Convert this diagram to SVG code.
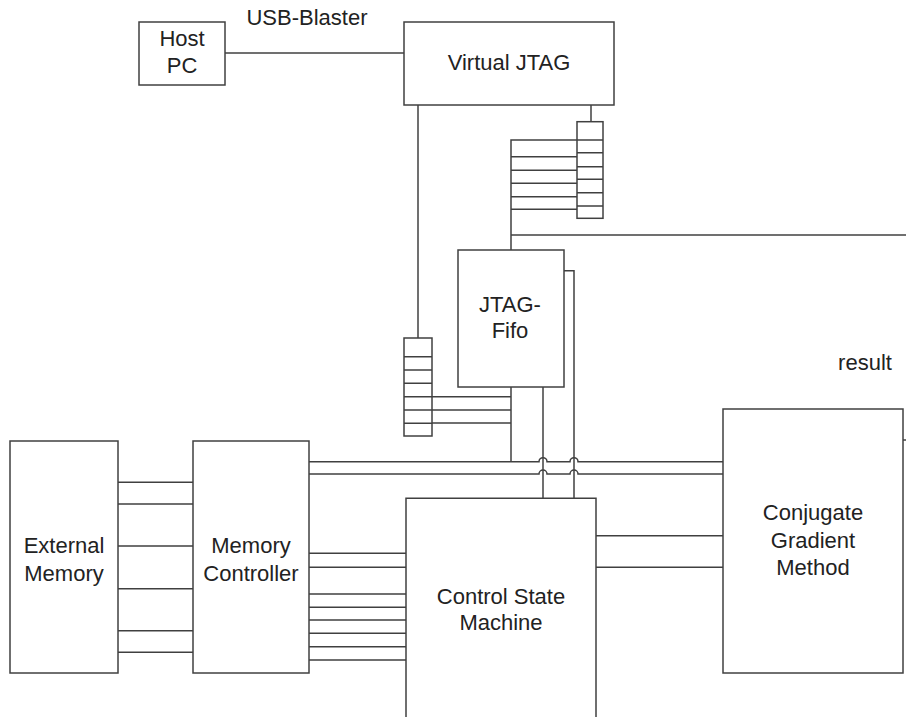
<svg xmlns="http://www.w3.org/2000/svg" width="906" height="717" viewBox="0 0 906 717">
<style>
.box{fill:#fff;stroke:#404040;stroke-width:1.5}
.w{fill:none;stroke:#404040;stroke-width:1.5}
.t{font-family:"Liberation Sans",Arial,sans-serif;font-size:22px;fill:#222;text-anchor:middle}
</style>
<rect width="906" height="717" fill="#fff"/>
<g id="connectors" class="w">
<path d="M225 53H404"/>
<path d="M418 105V338"/>
<path d="M591 105V122"/>
<path d="M577 140H511V250"/>
<path d="M577 156.7H511M577 170.3H511M577 183.3H511M577 196.7H511M577 209.3H511"/>
<path d="M511 235H906"/>
<path d="M432 396.7H511M432 410H511M432 423H511"/>
<path d="M511 387V461.7"/>
<path d="M543 387V498"/>
<path d="M564 270.7H574V498"/>
<path d="M309 461.7H539a4 4 0 0 1 8 0H570a4 4 0 0 1 8 0H723"/>
<path d="M309 474H539a4 4 0 0 1 8 0H570a4 4 0 0 1 8 0H723"/>
<path d="M596 535.7H723M596 567.3H723"/>
<path d="M903 440H906"/>
<path d="M118 482.3H193M118 504H193M118 546H193M118 588.7H193M118 630.7H193M118 652.3H193"/>
<path d="M309 553.3H406M309 567.3H406M309 594H406M309 607.3H406M309 620H406M309 633.3H406M309 646.7H406M309 660H406"/>
</g>
<g id="host-pc">
<rect class="box" x="139" y="22" width="86" height="63"/>
<text class="t" x="182" y="46">Host</text>
<text class="t" x="182" y="73">PC</text>
</g>
<g id="usb-label"><text class="t" x="307" y="25">USB-Blaster</text></g>
<g id="virtual-jtag">
<rect class="box" x="404" y="22" width="210" height="83"/>
<text class="t" x="509" y="70">Virtual JTAG</text>
</g>
<g id="reg-top" class="w">
<rect class="box" x="577" y="121.7" width="26" height="96.6"/>
<path d="M577 140H603M577 152.7H603M577 166.7H603M577 179.3H603M577 192.7H603M577 206H603"/>
</g>
<g id="reg-left" class="w">
<rect class="box" x="404" y="338" width="28" height="98"/>
<path d="M404 356.7H432M404 370H432M404 383.3H432M404 396.7H432M404 410H432M404 423.3H432"/>
</g>
<g id="jtag-fifo">
<rect class="box" x="458" y="250" width="106" height="137"/>
<text class="t" x="510" y="312">JTAG-</text>
<text class="t" x="510" y="338">Fifo</text>
</g>
<g id="result-label"><text class="t" x="865" y="370">result</text></g>
<g id="external-memory">
<rect class="box" x="10" y="441" width="108" height="232"/>
<text class="t" x="64" y="553">External</text>
<text class="t" x="64" y="581">Memory</text>
</g>
<g id="memory-controller">
<rect class="box" x="193" y="441" width="116" height="232"/>
<text class="t" x="251" y="553">Memory</text>
<text class="t" x="251" y="581">Controller</text>
</g>
<g id="control-state-machine">
<path class="box" d="M406 720V498.3H596V720"/>
<text class="t" x="501" y="604">Control State</text>
<text class="t" x="501" y="630">Machine</text>
</g>
<g id="conjugate-gradient">
<rect class="box" x="723" y="409" width="180" height="264"/>
<text class="t" x="813" y="520">Conjugate</text>
<text class="t" x="813" y="548">Gradient</text>
<text class="t" x="813" y="575">Method</text>
</g>
</svg>
